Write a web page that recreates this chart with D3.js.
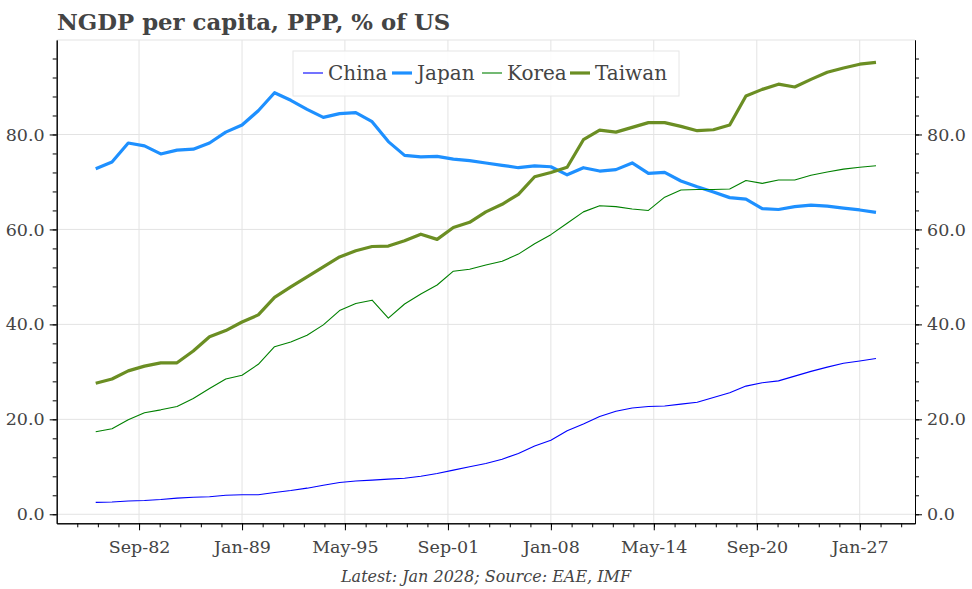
<!DOCTYPE html>
<html lang="en">
<head>
	<meta charset="utf-8">
	<title>NGDP per capita, PPP, % of US</title>
	<script src="https://d3js.org/d3.v7.min.js"></script>
	<style>
		body{ margin:0; background:#fff; }
		text{ font-family:"DejaVu Serif", Georgia, serif; fill:#444; }
		.title{ font-size:22.8px; font-weight:bold; }
		.note{ font-size:16px; font-style:italic; }
		.leg{ font-size:20px; }
	</style>
</head>
<body>
<div id="chart"></div>

<script>
// annual data, Jan of each year 1980..2028
let years=d3.range(1980,2029);
let china=[2.5,2.6,2.8,2.9,3.1,3.4,3.6,3.7,4.0,4.1,4.1,4.6,5.0,5.5,6.1,6.7,7.0,7.2,7.4,7.6,
	8.0,8.6,9.3,10.0,10.7,11.6,12.8,14.4,15.6,17.6,19.0,20.6,21.7,22.4,22.7,22.8,23.2,23.6,24.6,25.6,
	27.0,27.7,28.1,29.1,30.1,31.0,31.8,32.3,32.8];
let japan=[72.8,74.2,78.2,77.6,75.9,76.7,76.9,78.2,80.5,82.0,85.0,88.8,87.2,85.3,83.6,84.4,84.6,82.7,78.5,75.6,
	75.3,75.4,74.8,74.5,74.0,73.5,73.0,73.4,73.2,71.5,73.0,72.3,72.6,74.0,71.8,72.0,70.2,69.0,67.9,66.7,
	66.4,64.4,64.2,64.8,65.1,64.9,64.5,64.1,63.6];
let korea=[17.4,18.0,19.9,21.4,22.0,22.7,24.4,26.5,28.5,29.3,31.6,35.3,36.3,37.7,39.9,42.9,44.4,45.1,41.3,44.3,
	46.4,48.3,51.2,51.6,52.5,53.3,54.8,57.0,58.9,61.3,63.7,65.0,64.8,64.3,64.0,66.8,68.3,68.4,68.4,68.5,
	70.3,69.7,70.4,70.4,71.4,72.1,72.7,73.1,73.4];
let taiwan=[27.6,28.5,30.2,31.2,31.9,31.9,34.4,37.4,38.7,40.5,42.0,45.7,47.9,50.0,52.1,54.2,55.5,56.4,56.5,57.6,
	59.0,57.9,60.4,61.5,63.7,65.3,67.4,71.1,72.0,73.1,78.9,80.9,80.5,81.5,82.5,82.5,81.7,80.8,81.0,82.0,
	88.1,89.5,90.6,90.0,91.6,93.1,94.0,94.8,95.2];
let names=["China","Japan","Korea","Taiwan"];
let colors=["#0000ff","#1e90ff","#008000","#6b8e23"];
let widths=[1.1,3.2,1.1,3.2];
let yTicks=[0,20,40,60,80];
let xTickLabels=["Sep-82","Jan-89","May-95","Sep-01","Jan-08","May-14","Sep-20","Jan-27"];

let series=[china,japan,korea,taiwan];
let W=972,H=589;
let mLeft=56.7,mRight=915,mTop=40,mBottom=523.3;

let svg=d3.select("#chart").append("svg").attr("width",W).attr("height",H);

let t0=new Date(1980,0,1),t1=new Date(2028,0,1);
let pad=(t1-t0)*0.05;
let x=d3.scaleTime().domain([new Date(+t0-pad),new Date(+t1+pad)]).range([mLeft,mRight]);
let y=d3.scaleLinear().domain([-1.9,99.9]).range([mBottom,mTop]);

let parse=d3.timeParse("%b-%y");
let majors=xTickLabels.map(s=>parse(s));
let step=(majors[1]-majors[0])/5;
let minors=[];
for(let v=+majors[0]-step*10;v<=+x.domain()[1];v+=step){
	if(v>=+x.domain()[0]) minors.push(new Date(v));
}
let yMinor=d3.range(0,100,4);

// grid
svg.append("g").selectAll("line").data(majors).enter().append("line")
	.attr("x1",d=>x(d)).attr("x2",d=>x(d)).attr("y1",mTop).attr("y2",mBottom)
	.attr("stroke","#e3e3e3").attr("stroke-width",1);
svg.append("g").selectAll("line").data(yTicks).enter().append("line")
	.attr("x1",mLeft).attr("x2",mRight).attr("y1",d=>y(d)).attr("y2",d=>y(d))
	.attr("stroke","#e3e3e3").attr("stroke-width",1);
svg.append("line").attr("x1",mLeft).attr("x2",mRight).attr("y1",mTop).attr("y2",mTop)
	.attr("stroke","#e3e3e3");

// lines
let line=d3.line().x((d,i)=>x(new Date(years[i],0,1))).y(d=>y(d));
series.forEach((s,k)=>{
	svg.append("path").datum(s).attr("d",line).attr("fill","none")
		.attr("stroke",colors[k]).attr("stroke-width",widths[k]).attr("stroke-linejoin","round");
});

// axes
function styleAxis(g){
	g.select(".domain").attr("stroke","#000");
	g.selectAll(".tick line").attr("stroke","#000");
	g.selectAll(".tick text").attr("fill","#444");
}
let xAxis=svg.append("g").attr("transform","translate(0,"+mBottom+")")
	.call(d3.axisBottom(x).tickValues(majors).tickFormat(d3.timeFormat("%b-%y")).tickSize(7).tickPadding(7).tickSizeOuter(0));
styleAxis(xAxis);
xAxis.selectAll(".tick text").attr("dy","0.9em");
let xMinor=svg.append("g").attr("transform","translate(0,"+mBottom+")")
	.call(d3.axisBottom(x).tickValues(minors).tickFormat("").tickSize(4).tickSizeOuter(0));
styleAxis(xMinor);

let yl=svg.append("g").attr("transform","translate("+mLeft+",0)")
	.call(d3.axisLeft(y).tickValues(yTicks).tickFormat(d3.format(".1f")).tickSize(7).tickPadding(5).tickSizeOuter(0));
styleAxis(yl);
let ylm=svg.append("g").attr("transform","translate("+mLeft+",0)")
	.call(d3.axisLeft(y).tickValues(yMinor).tickFormat("").tickSize(4).tickSizeOuter(0));
styleAxis(ylm);
let yr=svg.append("g").attr("transform","translate("+mRight+",0)")
	.call(d3.axisRight(y).tickValues(yTicks).tickFormat(d3.format(".1f")).tickSize(7).tickPadding(5).tickSizeOuter(0));
styleAxis(yr);
let yrm=svg.append("g").attr("transform","translate("+mRight+",0)")
	.call(d3.axisRight(y).tickValues(yMinor).tickFormat("").tickSize(4).tickSizeOuter(0));
styleAxis(yrm);
svg.selectAll(".tick text").style("font-size","17.5px").style("font-family","'DejaVu Serif', Georgia, serif");

// title and note
svg.append("text").attr("class","title").attr("x",57).attr("y",30).text("NGDP per capita, PPP, % of US");
svg.append("text").attr("class","note").attr("x",486).attr("y",582).attr("text-anchor","middle")
	.text("Latest: Jan 2028; Source: EAE, IMF");

// legend
let lg=svg.append("g");
lg.append("rect").attr("x",293).attr("y",51).attr("width",386).attr("height",45)
	.attr("fill","#fff").attr("fill-opacity",0.85).attr("stroke","#e6e6e6");
let lx=[303,392,482,570];
names.forEach((n,k)=>{
	lg.append("line").attr("x1",lx[k]).attr("x2",lx[k]+20).attr("y1",73).attr("y2",73)
		.attr("stroke",colors[k]).attr("stroke-width",widths[k]);
	lg.append("text").attr("class","leg").attr("x",lx[k]+25).attr("y",80).text(n);
});
</script>
</body>
</html>
